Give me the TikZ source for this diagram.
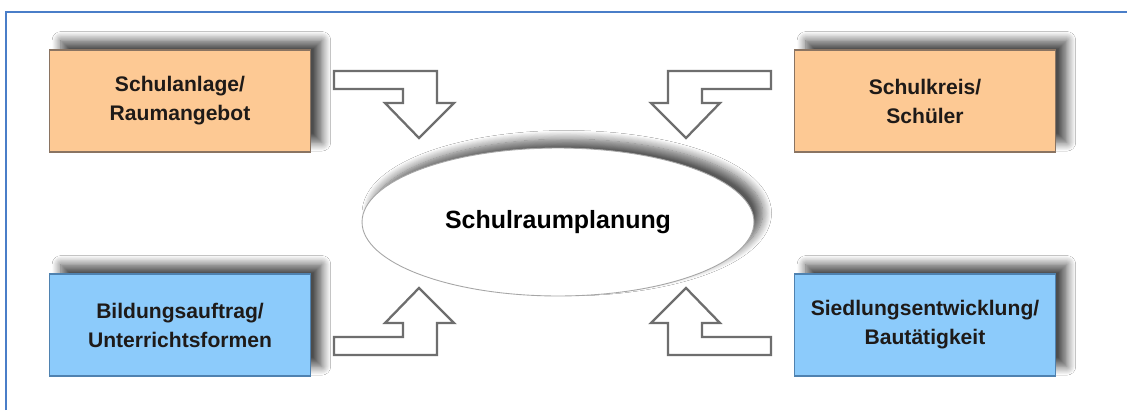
\documentclass[tikz,border=0pt]{standalone}
\usepackage{fontspec}
\setmainfont{Liberation Sans}
\usepackage{xcolor}
\usetikzlibrary{shapes.geometric,shadows.blur}
\definecolor{frame}{HTML}{4A7EC8}
\definecolor{peach}{HTML}{FDC994}
\definecolor{peachline}{HTML}{8A7462}
\definecolor{sky}{HTML}{8CCBFB}
\definecolor{skyline}{HTML}{4F82B0}
\definecolor{ink}{HTML}{1E1A18}
\definecolor{arrowline}{HTML}{6E6E6E}
\tikzset{
  topic/.style={rectangle, minimum width=5.22cm, minimum height=2.04cm, inner sep=0pt,
    align=center, text=ink, font=\bfseries\fontsize{12}{16.5}\selectfont,
    line width=0.6pt,
    blur shadow={shadow xshift=6.5pt, shadow yshift=5.5pt, shadow blur steps=10,
      shadow opacity=70, shadow blur radius=5pt}},
  school/.style={topic, fill=peach, draw=peachline},
  society/.style={topic, fill=sky, draw=skyline},
  core/.style={ellipse, minimum width=7.84cm, minimum height=2.96cm, inner sep=0pt,
    fill=white, draw=gray!70, line width=0.5pt, text=black,
    font=\bfseries\fontsize{14.2}{18}\selectfont,
    blur shadow={shadow xshift=5pt, shadow yshift=5pt, shadow blur steps=10,
      shadow opacity=65, shadow blur radius=5pt}},
  hollow/.style={draw=arrowline, line width=1.3pt, fill=white, line join=miter}
}

\begin{document}
\begin{tikzpicture}[x=0.02cm, y=-0.02cm]
  \useasboundingbox (0,0) rectangle (1127,410);
  \fill[white] (0,0) rectangle (1127,410);
  % outer frame, cut off at right and bottom
  \draw[frame, line width=1pt] (6,410) -- (6,12) -- (1127,12);

  % four influences
  \node[school]  (anlage)   at (180,101) {Schulanlage/\\Raumangebot};
  \node[school]  (kreis)    at (925,101) {Schulkreis/\\Schüler};
  \node[society] (bildung)  at (180,325) {Bildungsauftrag/\\Unterrichtsformen};
  \node[society] (siedlung) at (925,325) {Siedlungsentwicklung/\\Bautätigkeit};

  % centre
  \node[core] (planung) at (558,222) {Schulraumplanung};

  % hollow arrows, given by their tips
  \coordinate (tipA) at (419,138);
  \coordinate (tipK) at (686,138);
  \coordinate (tipB) at (419,288);
  \coordinate (tipS) at (686,288);
  \foreach \t/\sx/\sy in {tipA/1/1, tipK/-1/1, tipB/1/-1, tipS/-1/-1}
    \draw[hollow, shift={(\t)}, xscale=\sx, yscale=\sy]
      (0,0) -- (-34,-35) -- (-16,-35) -- (-16,-49) -- (-85,-49)
      -- (-85,-67) -- (18,-67) -- (18,-35) -- (35,-35) -- cycle;
\end{tikzpicture}
\end{document}
